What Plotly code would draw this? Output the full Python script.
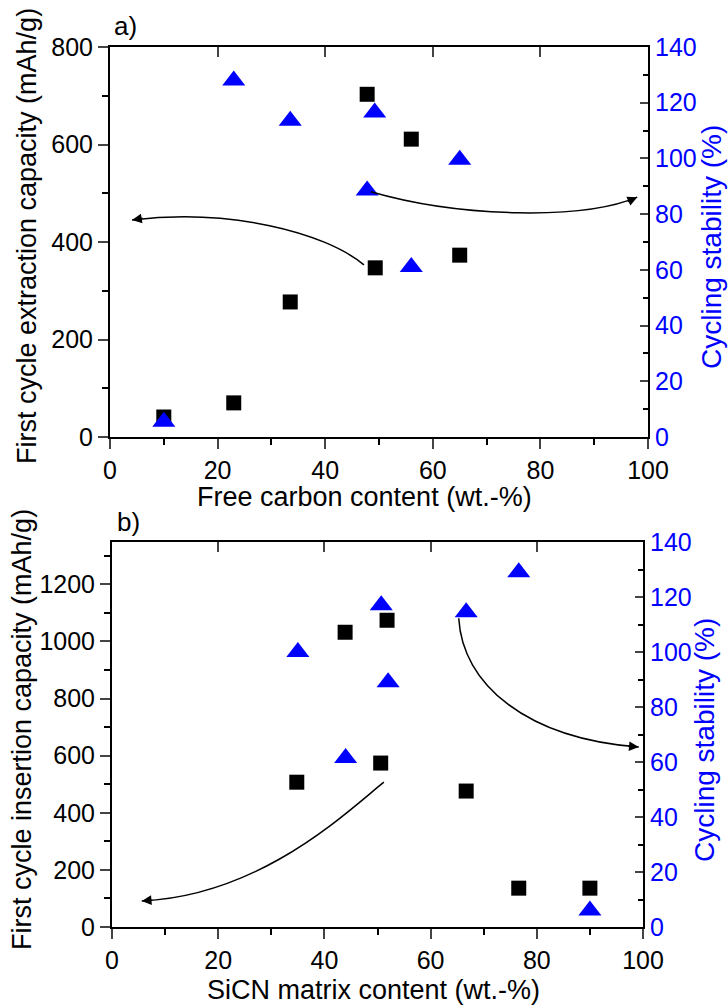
import plotly.graph_objects as go
from plotly.subplots import make_subplots

# ---- data: panel a) ----
a_x_sq = [10, 23, 33.5, 47.8, 49.3, 56, 65]
a_capacity = [41, 70, 277, 703, 347, 611, 373]
a_x_tri = [10, 23, 33.5, 47.8, 49.2, 56, 65]
a_stability = [5.5, 128, 113.5, 88.5, 116.5, 61, 99.5]

# ---- data: panel b) ----
b_x_sq = [34.8, 43.9, 50.6, 51.8, 66.7, 76.6, 90]
b_capacity = [507, 1032, 574, 1074, 476, 136, 136]
b_x_tri = [35, 44, 50.7, 52, 66.7, 76.6, 90]
b_stability = [100, 61.5, 117, 89, 114.5, 129, 6]

x_ticks = [0, 20, 40, 60, 80, 100]
a_left_ticks = [0, 200, 400, 600, 800]
b_left_ticks = [0, 200, 400, 600, 800, 1000, 1200]
right_ticks = [0, 20, 40, 60, 80, 100, 120, 140]

# arrow curves (cubic bezier: start, c1, c2, end) in left-axis data coordinates
arrows_a = [
    [(47.2, 353), (40, 420), (22, 470), (4.1, 445)],
    [(48.5, 503), (65, 450), (88, 445), (98, 492)],
]
arrows_b = [
    [(51.2, 507), (44, 400), (28, 110), (5.6, 91)],
    [(65.3, 1081), (66, 850), (78, 660), (99.2, 630)],
]
# arrowhead tail offsets (pixels)
heads_a = [(12, -2), (-11, 5)]
heads_b = [(12, -1), (-12, -1)]

FONT = "Liberation Sans, Arial, sans-serif"
BLUE = "#0000FF"
FS = 25     # tick labels
FT = 27     # axis titles

fig = make_subplots(rows=2, cols=1, specs=[[{"secondary_y": True}], [{"secondary_y": True}]])

fig.add_trace(go.Scatter(x=a_x_sq, y=a_capacity, mode="markers",
                         marker=dict(symbol="square", size=15, color="black"),
                         showlegend=False), row=1, col=1, secondary_y=False)
fig.add_trace(go.Scatter(x=a_x_tri, y=a_stability, mode="markers",
                         marker=dict(symbol="triangle-up", size=20, color=BLUE),
                         showlegend=False), row=1, col=1, secondary_y=True)
fig.add_trace(go.Scatter(x=b_x_sq, y=b_capacity, mode="markers",
                         marker=dict(symbol="square", size=15, color="black"),
                         showlegend=False), row=2, col=1, secondary_y=False)
fig.add_trace(go.Scatter(x=b_x_tri, y=b_stability, mode="markers",
                         marker=dict(symbol="triangle-up", size=20, color=BLUE),
                         showlegend=False), row=2, col=1, secondary_y=True)

W, H = 728, 1005
a_dom_x = [110 / W, 648 / W]
a_dom_y = [(H - 437) / H, (H - 47) / H]
b_dom_x = [112 / W, 643 / W]
b_dom_y = [(H - 927) / H, (H - 542) / H]

common_x = dict(range=[0, 100], tickvals=x_ticks, ticks="outside", ticklen=10, tickwidth=1.5,
                showline=True, linecolor="black", linewidth=2, mirror=True, showgrid=False,
                zeroline=False, automargin=False, tickfont=dict(family=FONT, size=FS, color="black"),
                minor=dict(dtick=10, ticks="outside", ticklen=6, tickwidth=1.5, tickcolor="black"))
left_y = dict(ticks="outside", ticklen=10, tickwidth=1.5, showline=True, linecolor="black",
              linewidth=2, showgrid=False, zeroline=False, automargin=False,
              tickfont=dict(family=FONT, size=FS, color="black"),
              minor=dict(dtick=100, ticks="outside", ticklen=6, tickwidth=1.5, tickcolor="black"))
right_y = dict(range=[0, 140], tickvals=right_ticks, ticks="inside", ticklen=8, tickwidth=1.5,
               showline=True, linecolor="black", linewidth=2, showgrid=False, zeroline=False,
               automargin=False, tickfont=dict(family=FONT, size=FS, color=BLUE),
               minor=dict(dtick=10, ticks="inside", ticklen=5, tickwidth=1.5, tickcolor="black"))

fig.update_layout(
    width=W, height=H, margin=dict(l=0, r=0, t=0, b=0, autoexpand=False),
    paper_bgcolor="white", plot_bgcolor="white", showlegend=False,
    xaxis=dict(common_x, domain=a_dom_x),
    yaxis=dict(left_y, domain=a_dom_y, range=[0, 800], tickvals=a_left_ticks),
    yaxis2=dict(right_y, domain=a_dom_y),
    xaxis2=dict(common_x, domain=b_dom_x),
    yaxis3=dict(left_y, domain=b_dom_y, range=[0, 1348], tickvals=b_left_ticks),
    yaxis4=dict(right_y, domain=b_dom_y),
    xaxis3=dict(overlaying="x", anchor="y", side="top", range=[0, 100], tickvals=x_ticks[1:-1],
                ticks="inside", ticklen=10, tickwidth=1.5, showticklabels=False, automargin=False,
                showgrid=False, zeroline=False, showline=False),
    xaxis4=dict(overlaying="x2", anchor="y3", side="top", range=[0, 100], tickvals=x_ticks[1:-1],
                ticks="inside", ticklen=10, tickwidth=1.5, showticklabels=False, automargin=False,
                showgrid=False, zeroline=False, showline=False),
)
# dummy traces so overlay axes render
fig.add_trace(go.Scatter(x=[None], y=[None], xaxis="x3", yaxis="y", showlegend=False))
fig.add_trace(go.Scatter(x=[None], y=[None], xaxis="x4", yaxis="y3", showlegend=False))

shapes = []
annotations = []


def add_arrows(curves, heads, xref, yref):
    for pts, (hx, hy) in zip(curves, heads):
        (x0, y0), (x1, y1), (x2, y2), (x3, y3) = pts
        shapes.append(dict(type="path", xref=xref, yref=yref,
                           path=f"M {x0},{y0} C {x1},{y1} {x2},{y2} {x3},{y3}",
                           line=dict(color="black", width=1.5)))
        annotations.append(dict(x=x3, y=y3, xref=xref, yref=yref, ax=hx, ay=hy,
                                axref="pixel", ayref="pixel", text="", showarrow=True,
                                arrowhead=2, arrowsize=1.3, arrowwidth=1.5,
                                arrowcolor="black", standoff=0))


add_arrows(arrows_a, heads_a, "x", "y")
add_arrows(arrows_b, heads_b, "x2", "y3")

txt = dict(family=FONT, size=FT, color="black")
txtr = dict(family=FONT, size=FT + 1, color=BLUE)
txtl = dict(family=FONT, size=26, color="black")


def lab(text, x, y, font, angle=0):
    annotations.append(dict(text=text, x=x / W, y=1 - y / H, xref="paper", yref="paper",
                            showarrow=False, font=font, textangle=angle,
                            xanchor="center", yanchor="middle"))


lab("a)", 125, 26, txtl)
lab("b)", 128, 522, txtl)
lab("Free carbon content (wt.-%)", 364, 497, txt)
lab("SiCN matrix content (wt.-%)", 374, 990, txt)
lab("First cycle extraction capacity (mAh/g)", 27, 236, txt, -90)
lab("First cycle insertion capacity (mAh/g)", 22, 730, txt, -90)
lab("Cycling stability (%)", 711, 247, txtr, -90)
lab("Cycling stability (%)", 704, 740, txtr, -90)

fig.update_layout(shapes=shapes, annotations=annotations)
fig.write_html("out.html", config={"displayModeBar": False},
               post_script="document.body.style.margin='0';document.body.style.padding='0';")
